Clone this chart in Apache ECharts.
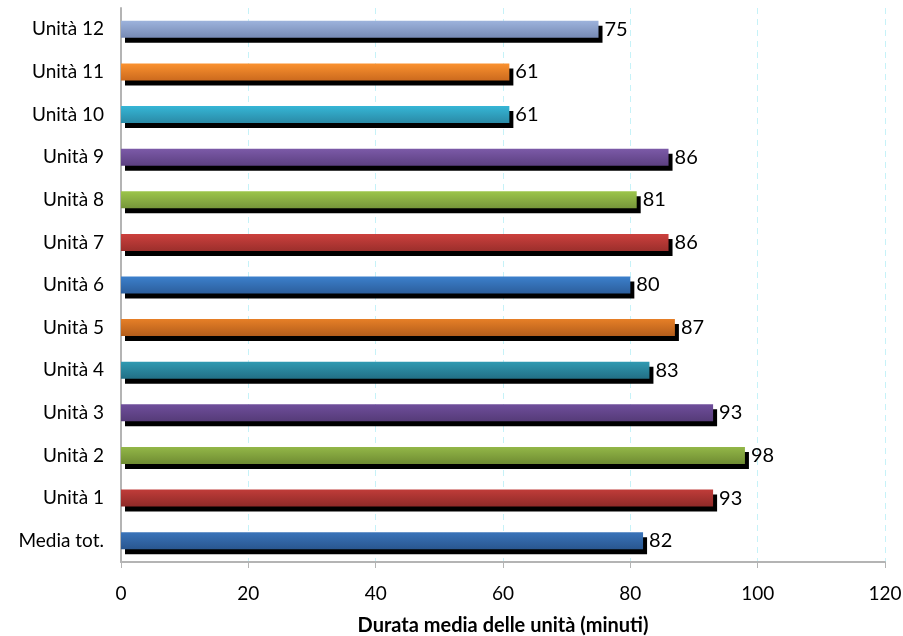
<!DOCTYPE html>
<html>
<head>
<meta charset="utf-8">
<script src="https://cdn.jsdelivr.net/npm/echarts@6/dist/echarts.min.js"></script>
<style>
html,body{margin:0;padding:0;background:#fff;}
#chart{width:903px;height:636px;}
</style>
</head>
<body>
<div id="chart"></div>
<script>
var categories = ['Media tot.', 'Unità 1', 'Unità 2', 'Unità 3', 'Unità 4', 'Unità 5', 'Unità 6', 'Unità 7', 'Unità 8', 'Unità 9', 'Unità 10', 'Unità 11', 'Unità 12'];
var values = [82, 93, 98, 93, 83, 87, 80, 86, 81, 86, 61, 61, 75];
var xTicks = [0, 20, 40, 60, 80, 100, 120];
var axisName = 'Durata media delle unità (minuti)';
var topColors = ['#3a74ba', '#c03c39', '#93b748', '#6f4e9b', '#2f9ab2', '#e67f27', '#3c80cc', '#cc403d', '#9cc54b', '#7c5aa8', '#36b6d6', '#fb922f', '#9db3dc'];
var bottomColors = ['#29568f', '#8e2a28', '#6f8c32', '#553b78', '#226f85', '#b35d1b', '#2c5e9c', '#9c2f2c', '#76963a', '#5c4081', '#2a8aa6', '#cc6a1e', '#7689b4'];

var data = values.map(function (v, i) {
  return {
    value: v,
    itemStyle: {
      color: new echarts.graphic.LinearGradient(0, 0, 0, 1, [
        {offset: 0, color: topColors[i]},
        {offset: 1, color: bottomColors[i]}
      ])
    }
  };
});

var chart = echarts.init(document.getElementById('chart'), null, {renderer: 'canvas'});
var fontFam = 'Lato, "Open Sans", sans-serif';
chart.setOption({
  animation: false,
  backgroundColor: '#fff',
  grid: {left: 121, right: 18, top: 8, bottom: 74, containLabel: false, outerBoundsMode: 'none'},
  xAxis: {
    type: 'value',
    min: xTicks[0],
    max: xTicks[xTicks.length - 1],
    interval: 20,
    name: axisName,
    nameLocation: 'middle',
    nameGap: 54,
    nameTextStyle: {fontFamily: fontFam, fontSize: 20, fontWeight: 'bold', color: '#000'},
    axisLine: {show: true, lineStyle: {color: '#b4b4b4', width: 2}},
    axisTick: {show: true, length: 6, lineStyle: {color: '#b4b4b4', width: 1}},
    axisLabel: {fontFamily: fontFam, fontSize: 19, color: '#000', margin: 22},
    splitLine: {show: true, lineStyle: {color: '#c6f2f8', type: [6, 5], width: 1}}
  },
  yAxis: {
    type: 'category',
    data: categories,
    axisLine: {show: true, lineStyle: {color: '#b4b4b4', width: 2}},
    axisTick: {show: false},
    axisLabel: {fontFamily: fontFam, fontSize: 19, color: '#000', margin: 17},
    splitLine: {show: false}
  },
  series: [{
    type: 'bar',
    data: data,
    barWidth: 17,
    itemStyle: {
      shadowColor: '#000',
      shadowBlur: 0,
      shadowOffsetX: 4,
      shadowOffsetY: 5
    },
    label: {
      show: true,
      position: 'right',
      distance: 6,
      fontFamily: fontFam,
      fontSize: 20,
      color: '#000'
    }
  }]
});
</script>
</body>
</html>
